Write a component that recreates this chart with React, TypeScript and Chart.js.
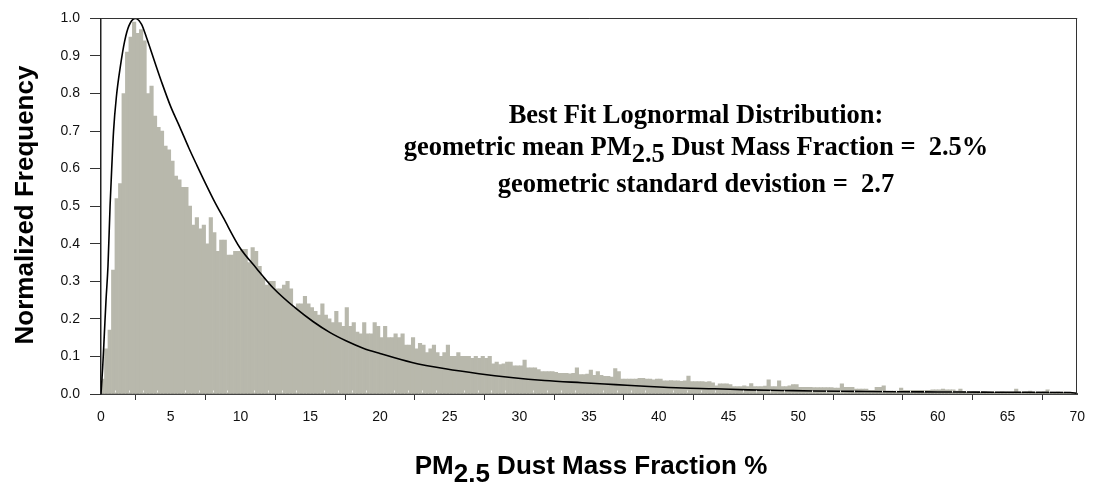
import React, { useEffect, useRef } from 'react';
import { Chart, registerables } from 'chart.js';

Chart.register(...registerables);

// ---------- data ----------
const BIN_WIDTH = 0.25; // histogram bin width (% units)

// Normalized frequency per 0.25-wide bin, from 0 to 70
const HIST_VALUES: number[] = [
  // 0-1
  0.04, 0.12, 0.17, 0.33,
  // 1-2
  0.52, 0.56, 0.80, 0.91,
  // 2-3
  0.95, 0.99, 0.96, 0.97,
  // 3-4
  0.94, 0.80, 0.82, 0.74,
  // 4-5
  0.71, 0.70, 0.66, 0.65,
  // 5-6
  0.62, 0.58, 0.57, 0.55,
  // 6-7
  0.55, 0.50, 0.45, 0.47,
  // 7-8
  0.44, 0.45, 0.40, 0.47,
  // 8-9
  0.43, 0.38, 0.41, 0.41,
  // 9-10
  0.37, 0.37, 0.38, 0.38,
  // 10-11
  0.385, 0.385, 0.35, 0.39,
  // 11-12
  0.38, 0.34, 0.31, 0.29,
  // 12-13
  0.30, 0.30, 0.28, 0.28,
  // 13-14
  0.29, 0.30, 0.28, 0.23,
  // 14-15
  0.24, 0.24, 0.26, 0.24,
  // 15-16
  0.23, 0.22, 0.21, 0.24,
  // 16-17
  0.21, 0.20, 0.19, 0.22,
  // 17-18
  0.19, 0.18, 0.23, 0.18,
  // 18-19
  0.19, 0.165, 0.16, 0.19,
  // 19-20
  0.16, 0.16, 0.19, 0.18,
  // 20-21
  0.15, 0.18, 0.15, 0.15,
  // 21-22
  0.16, 0.15, 0.16, 0.13,
  // 22-23
  0.13, 0.15, 0.12, 0.135,
  // 23-24
  0.13, 0.11, 0.12, 0.13,
  // 24-25
  0.11, 0.10, 0.11, 0.13,
  // 25-26
  0.10, 0.10, 0.11, 0.10,
  // 26-27
  0.10, 0.10, 0.095, 0.10,
  // 27-28
  0.095, 0.10, 0.095, 0.10,
  // 28-29
  0.08, 0.085, 0.078, 0.08,
  // 29-30
  0.085, 0.085, 0.075, 0.075,
  // 30-31
  0.075, 0.09, 0.07, 0.07,
  // 31-32
  0.07, 0.065, 0.06, 0.06,
  // 32-33
  0.06, 0.06, 0.058, 0.055,
  // 33-34
  0.055, 0.055, 0.054, 0.055,
  // 34-35
  0.07, 0.052, 0.052, 0.053,
  // 35-36
  0.064, 0.05, 0.06, 0.05,
  // 36-37
  0.047, 0.047, 0.045, 0.068,
  // 37-38
  0.06, 0.04, 0.04, 0.04,
  // 38-39
  0.04, 0.04, 0.042, 0.042,
  // 39-40
  0.04, 0.04, 0.038, 0.04,
  // 40-41
  0.04, 0.035, 0.035, 0.036,
  // 41-42
  0.035, 0.035, 0.034, 0.035,
  // 42-43
  0.048, 0.033, 0.033, 0.033,
  // 43-44
  0.033, 0.032, 0.033, 0.030,
  // 44-45
  0.022, 0.027, 0.027, 0.027,
  // 45-46
  0.025, 0.02, 0.02, 0.02,
  // 46-47
  0.022, 0.02, 0.028, 0.02,
  // 47-48
  0.02, 0.02, 0.021, 0.038,
  // 48-49
  0.02, 0.02, 0.035, 0.02,
  // 49-50
  0.02, 0.022, 0.025, 0.025,
  // 50-51
  0.018, 0.018, 0.018, 0.018,
  // 51-52
  0.017, 0.017, 0.017, 0.017,
  // 52-53
  0.017, 0.017, 0.016, 0.016,
  // 53-54
  0.027, 0.018, 0.018, 0.018,
  // 54-55
  0.013, 0.013, 0.013, 0.013,
  // 55-56
  0.01, 0.01, 0.018, 0.018,
  // 56-57
  0.022, 0.008, 0.008, 0.008,
  // 57-58
  0.008, 0.016, 0.01, 0.01,
  // 58-59
  0.01, 0.01, 0.01, 0.01,
  // 59-60
  0.01, 0.01, 0.011, 0.011,
  // 60-61
  0.011, 0.013, 0.011, 0.011,
  // 61-62
  0.011, 0.008, 0.013, 0.007,
  // 62-63
  0.005, 0.005, 0.006, 0.005,
  // 63-64
  0.005, 0.006, 0.005, 0.005,
  // 64-65
  0.005, 0.005, 0.006, 0.005,
  // 65-66
  0.005, 0.005, 0.013, 0.005,
  // 66-67
  0.005, 0.006, 0.008, 0.005,
  // 67-68
  0.005, 0.005, 0.006, 0.011,
  // 68-69
  0.004, 0.004, 0.005, 0.004,
  // 69-70
  0.004, 0.004, 0.004, 0.003,
];

// Best-fit lognormal curve
const CURVE_X: number[] = [
  0, 0.12, 0.24, 0.36, 0.5, 0.65, 0.78, 0.9, 1.1, 1.38, 1.7, 2.0, 2.45, 2.9, 3.3,
  3.8, 4.4, 5.0, 5.66, 6.3, 6.86, 7.5, 8.17, 8.76, 9.95, 11.14, 12.33, 14.0,
  15.2, 16.4, 17.6, 18.8, 20.0, 22.3, 24.7, 27.1, 29.4, 31.8, 34.5, 36.9, 39.3,
  41.7, 44.0, 46.4, 48.8, 51.1, 54, 57, 60, 63, 66, 69.5, 70,
];
const CURVE_Y: number[] = [
  0, 0.07, 0.16, 0.25, 0.34, 0.5, 0.61, 0.7, 0.79, 0.87, 0.94, 0.98, 1.0, 0.985, 0.945,
  0.89, 0.825, 0.765, 0.71, 0.655, 0.61, 0.56, 0.51, 0.47, 0.39, 0.335, 0.283, 0.227,
  0.193, 0.164, 0.141, 0.122, 0.108, 0.084, 0.067, 0.054, 0.044, 0.036, 0.03, 0.025, 0.02,
  0.016, 0.014, 0.011, 0.0095, 0.008, 0.007, 0.006, 0.0055, 0.005, 0.0045, 0.004, 0.002,
];

const X_MIN = 0;
const X_MAX = 70;
const X_STEP = 5;
const Y_MIN = 0;
const Y_MAX = 1;
const Y_STEP = 0.1;

const Y_TITLE = 'Normalized Frequency';
// [text, isSubscript]
const X_TITLE: [string, boolean][] = [
  ['PM', false],
  ['2.5', true],
  [' Dust Mass Fraction %', false],
];
const NOTE_LINES: [string, boolean][][] = [
  [['Best Fit Lognormal Distribution:', false]],
  [
    ['geometric mean PM', false],
    ['2.5', true],
    [' Dust Mass Fraction =  2.5%', false],
  ],
  [['geometric standard devistion =  2.7', false]],
];

// ---------- drawing helpers ----------
function drawSegments(
  ctx: CanvasRenderingContext2D,
  segs: [string, boolean][],
  cx: number,
  baseline: number,
  font: string,
  subShift: number
) {
  ctx.font = font;
  const widths = segs.map(([t]) => ctx.measureText(t).width);
  const total = widths.reduce((a, b) => a + b, 0);
  let x = cx - total / 2;
  ctx.textAlign = 'left';
  ctx.textBaseline = 'alphabetic';
  segs.forEach(([t, sub], i) => {
    ctx.fillText(t, x, baseline + (sub ? subShift : 0));
    x += widths[i];
  });
}

const decorPlugin = {
  id: 'decor',
  afterDraw(chart: any) {
    const ctx: CanvasRenderingContext2D = chart.ctx;
    const { left, right, top, bottom } = chart.chartArea;
    const xs = chart.scales.x;
    ctx.save();

    // frame: top and right edges
    ctx.strokeStyle = '#333';
    ctx.lineWidth = 1;
    ctx.beginPath();
    ctx.moveTo(left, Math.round(top) + 0.5);
    ctx.lineTo(right, Math.round(top) + 0.5);
    ctx.moveTo(Math.round(right) - 0.5, top);
    ctx.lineTo(Math.round(right) - 0.5, bottom);
    ctx.stroke();

    // small inner minor ticks on the x axis
    ctx.strokeStyle = '#ecece6';
    ctx.beginPath();
    for (let v = X_MIN + 1; v < X_MAX; v++) {
      if (v % X_STEP === 0) continue;
      const px = Math.round(xs.getPixelForValue(v)) + 0.5;
      ctx.moveTo(px, bottom - 1.5);
      ctx.lineTo(px, bottom - 3.5);
    }
    ctx.stroke();

    ctx.fillStyle = '#000';
    // x axis title
    drawSegments(ctx, X_TITLE, 591, 474, 'bold 26px "Liberation Sans", Arial, sans-serif', 8);

    // y axis title
    ctx.save();
    ctx.translate(33, 205);
    ctx.rotate(-Math.PI / 2);
    ctx.font = 'bold 26px "Liberation Sans", Arial, sans-serif';
    ctx.textAlign = 'center';
    ctx.textBaseline = 'alphabetic';
    ctx.fillText(Y_TITLE, 0, 0);
    ctx.restore();

    // annotation
    const noteFont = 'bold 26.5px "Liberation Serif", "Times New Roman", serif';
    const baselines = [123, 155, 192];
    NOTE_LINES.forEach((segs, i) => {
      drawSegments(ctx, segs, 696, baselines[i], noteFont, 7);
    });

    ctx.restore();
  },
};

export default function App() {
  const canvasRef = useRef<HTMLCanvasElement | null>(null);

  useEffect(() => {
    const canvas = canvasRef.current;
    if (!canvas) return;

    const histData = HIST_VALUES.map((v, i) => ({ x: X_MIN + (i + 0.5) * BIN_WIDTH, y: v }));
    const curveData = CURVE_X.map((x, i) => ({ x, y: CURVE_Y[i] }));

    const tickFont = { family: '"Liberation Sans", Arial, sans-serif', size: 14 };

    const chart = new Chart(canvas, {
      type: 'bar',
      data: {
        datasets: [
          {
            type: 'line',
            data: curveData,
            borderColor: '#000',
            borderWidth: 1.6,
            pointRadius: 0,
            cubicInterpolationMode: 'monotone',
            fill: false,
            order: 0,
          } as any,
          {
            type: 'bar',
            data: histData,
            backgroundColor: '#b8b8ac',
            borderWidth: 0,
            barPercentage: 1,
            categoryPercentage: 1,
            order: 1,
          } as any,
        ],
      },
      options: {
        responsive: false,
        animation: false,
        events: [],
        layout: { padding: { left: 0, right: 11, top: 16, bottom: 0 } },
        plugins: {
          legend: { display: false },
          tooltip: { enabled: false },
          title: { display: false },
        },
        scales: {
          x: {
            type: 'linear',
            min: X_MIN,
            max: X_MAX,
            offset: false,
            afterFit: (scale: any) => {
              scale.height = 93;
            },
            ticks: {
              stepSize: X_STEP,
              autoSkip: false,
              maxRotation: 0,
              padding: 9,
              color: '#111',
              font: tickFont,
            },
            grid: {
              display: true,
              drawOnChartArea: false,
              drawTicks: true,
              tickLength: 6,
              color: '#333',
              lineWidth: 1,
            },
            border: { display: true, color: '#444', width: 2 },
          },
          y: {
            type: 'linear',
            min: Y_MIN,
            max: Y_MAX,
            afterFit: (scale: any) => {
              scale.width = 101;
            },
            ticks: {
              stepSize: Y_STEP,
              autoSkip: false,
              padding: 10,
              color: '#111',
              font: tickFont,
              callback: (v: any) => Number(v).toFixed(1),
            },
            grid: {
              display: true,
              drawOnChartArea: false,
              drawTicks: true,
              tickLength: 11,
              color: '#333',
              lineWidth: 1,
            },
            border: { display: true, color: '#222', width: 1.5 },
          },
        },
      },
      plugins: [decorPlugin],
    } as any);

    return () => {
      chart.destroy();
    };
  }, []);

  return (
    <div style={{ position: 'absolute', left: 0, top: 0, width: 1094, height: 487, background: '#fff' }}>
      <canvas ref={canvasRef} width={1094} height={487} style={{ display: 'block' }} />
    </div>
  );
}
